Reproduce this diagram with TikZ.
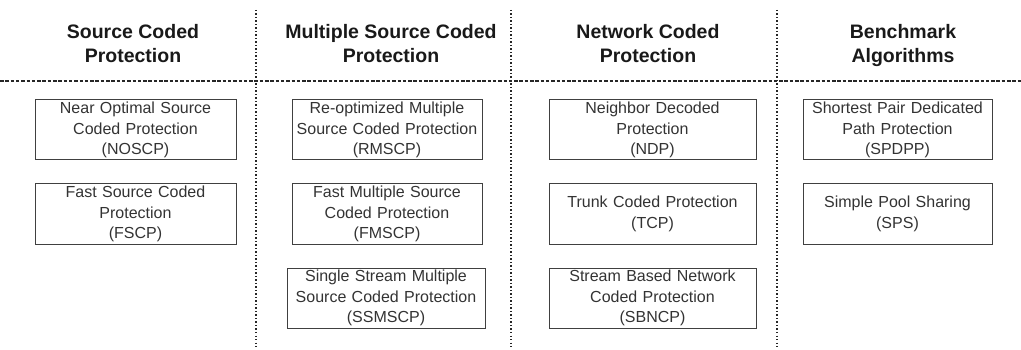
\documentclass[tikz,border=0pt]{standalone}
\usepackage{fontspec}
\setmainfont{Liberation Sans}
\usetikzlibrary{positioning}

\begin{document}
\begin{tikzpicture}[x=1pt, y=-1pt,
    head/.style={anchor=north, inner sep=0pt, align=center, font=\fontsize{19.5}{24}\selectfont\bfseries, text=black!90},
    algo/.style={draw=black!75, line width=1pt, text width=#1, minimum height=60pt, inner sep=0pt, align=center, font=\fontsize{16}{20.5}\selectfont, text=black!80},
    hsep/.style={dash pattern=on 3.5pt off 1.8pt, line width=1.6pt, black!85},
    vsep/.style={dash pattern=on 1.2pt off 2.3pt, line width=1.3pt, black!85}
]
\useasboundingbox (0,0) rectangle (1021,350);

% separators
\coordinate (hl) at (0,81);
\coordinate (hr) at (1021,81);
\draw[hsep] (hl) -- (hr);
\foreach \x/\n in {256/a, 511/b, 777/c} {
    \coordinate (top\n) at (\x,10);
    \coordinate (bot\n) at (\x,349);
    \draw[vsep] (top\n) -- (bot\n);
}

% column headings
\node[head] (h1) at (133,24) {Source Coded\\Protection};
\node[head] (h2) at (391,24) {Multiple Source Coded\\Protection};
\node[head] (h3) at (648,24) {Network Coded\\Protection};
\node[head] (h4) at (903,24) {Benchmark\\Algorithms};

% source coded
\node[algo=201pt] (noscp) at (135.5,130) {Near Optimal Source\\Coded Protection\\(NOSCP)};
\node[algo=201pt] (fscp) at (135.5,214) {Fast Source Coded\\Protection\\(FSCP)};

% multiple source coded
\node[algo=190pt] (rmscp) at (387,130) {Re-optimized Multiple\\Source Coded Protection\\(RMSCP)};
\node[algo=190pt] (fmscp) at (387,214) {Fast Multiple Source\\Coded Protection\\(FMSCP)};
\node[algo=198pt] (ssmscp) at (386,298) {Single Stream Multiple\\Source Coded Protection\\(SSMSCP)};

% network coded
\node[algo=207pt] (ndp) at (652.5,130) {Neighbor Decoded\\Protection\\(NDP)};
\node[algo=207pt] (tcp) at (652.5,214) {Trunk Coded Protection\\(TCP)};
\node[algo=207pt] (sbncp) at (652.5,298) {Stream Based Network\\Coded Protection\\(SBNCP)};

% benchmark
\node[algo=189pt] (spdpp) at (897.5,130) {Shortest Pair Dedicated\\Path Protection\\(SPDPP)};
\node[algo=189pt] (sps) at (897.5,214) {Simple Pool Sharing\\(SPS)};
\end{tikzpicture}
\end{document}
